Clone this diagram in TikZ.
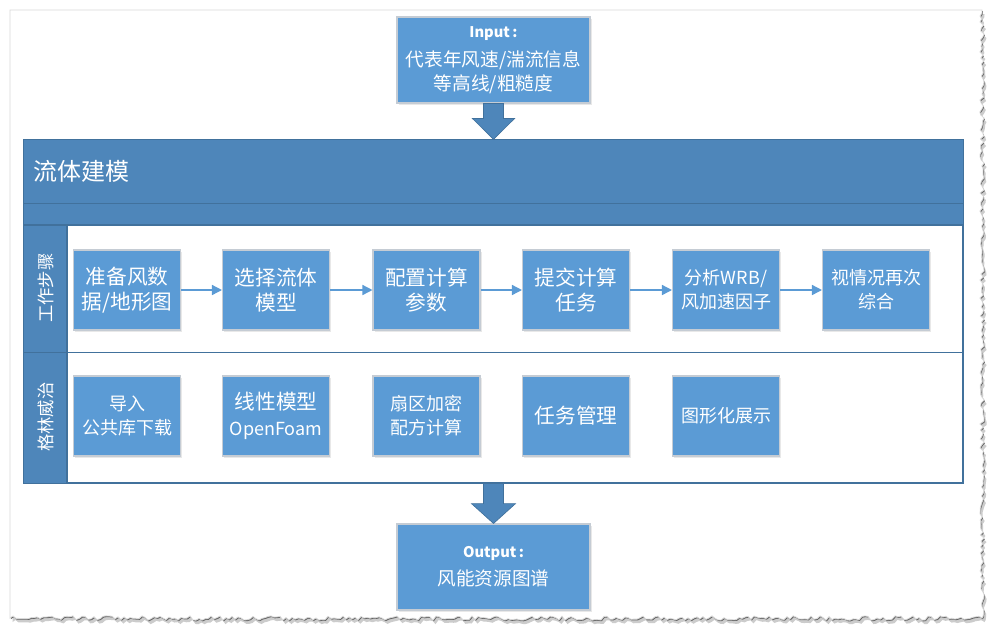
\documentclass[tikz,border=0pt]{standalone}
\usepackage{fontspec}
\setmainfont{Noto Sans CJK SC}
\usetikzlibrary{arrows.meta,shadows,calc}
\definecolor{boxblue}{HTML}{5B9BD5}
\definecolor{hdrblue}{HTML}{4E86BA}
\definecolor{edgeblue}{HTML}{41719C}
\definecolor{boxedge}{HTML}{C5CCD4}
\newcommand\mypagepath[1]{\pgfmathsetseed{5}%
  \path[#1] (10,10) -- (982,10) foreach \y in {13,16,...,616} { -- ({982+2.2*rand},\y) }
    -- (982,618) foreach \x in {979,976,...,13} { -- (\x,{618+2.2*rand}) } -- (10,618) -- cycle;}
\begin{document}
\begin{tikzpicture}[x=0.75pt,y=-0.75pt,
  bigfont/.style={font=\fontsize{15.5}{18.75}\selectfont},
  smallfont/.style={font=\fontsize{13.5}{18}\selectfont},
  stepbox/.style={draw=boxedge, line width=0.8pt, fill=boxblue, text=white, align=center,
     minimum width=80.25pt, minimum height=60pt, inner sep=0pt,
     drop shadow={opacity=0.18, shadow xshift=1.2pt, shadow yshift=-1.5pt}},
  iobox/.style={stepbox, minimum width=144.75pt, minimum height=64.5pt},
  flow/.style={draw=boxblue, line width=1.1pt, -{Triangle[length=7.5pt,width=7.5pt]}},
  blockarrow/.style={fill=hdrblue, draw=edgeblue, line width=0.5pt},
  sidelabel/.style={text=white, rotate=90, font=\fontsize{13}{15}\selectfont}]
\useasboundingbox (0,0) rectangle (1002,637);
\fill[white] (0,0) rectangle (1002,637);
% page with torn edges
\begin{scope}[shift={(2.5,4)}]
  \mypagepath{fill=black!20}
\end{scope}
\begin{scope}[shift={(0.8,1.2)}]
  \mypagepath{fill=black!60}
\end{scope}
\mypagepath{fill=white, draw=black!15, line width=0.6pt}

% input
\node[iobox, font=\fontsize{14}{16}\selectfont] (in) at (493.5,60) {{\fontsize{11}{13}\selectfont\bfseries Input\,:}\\[6pt]
  代表年风速/湍流信息\\[1.5pt]
  等高线/粗糙度};

% main container
\node[draw=edgeblue, line width=0.9pt, fill=white, minimum width=704.25pt, minimum height=257.25pt,
      inner sep=0pt] (main) at (493.5,311.5) {};
\fill[hdrblue] (main.north west) rectangle (963,225);
\fill[hdrblue] (24,225) rectangle (67,483);
\draw[edgeblue, line width=0.7pt] (24,203) -- (963,203);
\draw[edgeblue, line width=0.9pt] (24,225) -- (963,225);
\draw[edgeblue, line width=0.9pt] (67,225) -- (67,483);
\draw[edgeblue, line width=1.3pt] (24,352.5) -- (963,352.5);
\draw[edgeblue, line width=0.9pt] (main.north west) rectangle (main.south east);
\node[anchor=west, text=white, font=\fontsize{18}{20}\selectfont] (title) at (29,171) {流体建模};
\node[sidelabel] (lab1) at (45.5,288) {工作步骤};
\node[sidelabel] (lab2) at (45.5,417) {格林威治};

% block arrows
\path[blockarrow] ($(in.south)+(-10,0)$) -- ++(20,0) -- ++(0,15) -- ++(11,0)
   -- (main.north) -- ($(in.south)+(-21,15)$) -- ++(11,0) -- cycle;

\node[iobox, font=\fontsize{14}{16}\selectfont] (out) at (493.5,567) {{\fontsize{11}{13}\selectfont\bfseries Output\,:}\\[5pt]
  风能资源图谱};
\path[blockarrow] ($(main.south)+(-10,0)$) -- ++(20,0) -- ++(0,20) -- ++(12,0)
   -- (out.north) -- ($(main.south)+(-22,20)$) -- ++(12,0) -- cycle;

% row 1
\node[stepbox, bigfont] (a1) at (127,290) {准备风数\\据/地形图};
\node[stepbox, bigfont] (a2) at (276,290) {选择流体\\模型};
\node[stepbox, bigfont] (a3) at (426.5,290) {配置计算\\参数};
\node[stepbox, bigfont] (a4) at (576,290) {提交计算\\任务};
\node[stepbox, smallfont] (a5) at (726,290) {分析WRB/\\风加速因子};
\node[stepbox, smallfont] (a6) at (876,290) {视情况再次\\综合};
\draw[flow] (a1) -- (a2);
\draw[flow] (a2) -- (a3);
\draw[flow] (a3) -- (a4);
\draw[flow] (a4) -- (a5);
\draw[flow] (a5) -- (a6);

% row 2
\node[stepbox, smallfont] (b1) at (127,416) {导入\\公共库下载};
\node[stepbox, font=\fontsize{15.5}{19}\selectfont] (b2) at (276,416)
   {线性模型\\{\fontsize{13.5}{19}\selectfont OpenFoam}};
\node[stepbox, smallfont] (b3) at (426.5,416) {扇区加密\\配方计算};
\node[stepbox, bigfont] (b4) at (576,416) {任务管理};
\node[stepbox, smallfont] (b5) at (726,416) {图形化展示};
\end{tikzpicture}
\end{document}
